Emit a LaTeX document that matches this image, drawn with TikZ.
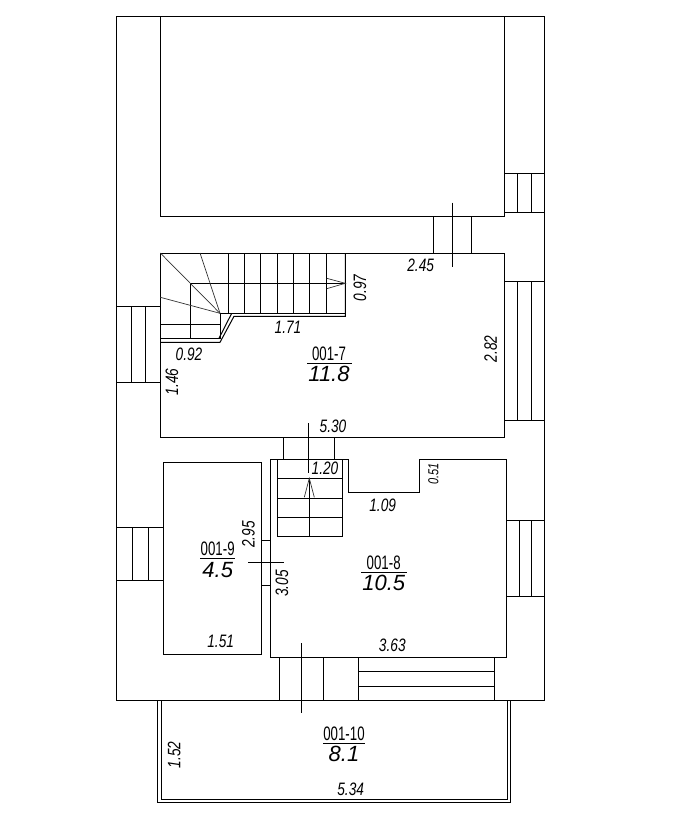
\documentclass[tikz,border=0pt]{standalone}
\usepackage{fontspec}
\setmainfont{Liberation Sans}
\newfontfamily\narrowfont[FakeStretch=0.76]{Liberation Sans}
\newfontfamily\tagfont[FakeStretch=0.68]{Liberation Sans}
\tikzset{
    wall/.style={draw=black,line width=1pt},
    thin wall/.style={draw=black!80,line width=0.7pt},
    size/.style={font=\narrowfont\itshape\fontsize{18}{18}\selectfont,inner sep=0pt},
    small size/.style={font=\narrowfont\itshape\fontsize{14.5}{15}\selectfont,inner sep=0pt},
    room tag/.style={font=\tagfont\fontsize{19.5}{20}\selectfont,inner sep=0pt},
    room area/.style={font=\itshape\fontsize{22}{22}\selectfont,inner sep=0pt}
}
\begin{document}
\begin{tikzpicture}[x=1pt,y=-1pt]
    \useasboundingbox (0,0) rectangle (675,816);
    % outline and rooms
    \draw[wall] (116.5,17) rectangle (544,700.3);
    \draw[wall] (160.3,17) -- (160.3,216) -- (504.3,216) -- (504.3,17);
    \draw[wall] (160.3,253) rectangle (504.3,437);
    \draw[wall] (163.3,462.3) rectangle (261.3,654.3);
    \draw[wall] (348.3,459.3) -- (270.3,459.3) -- (270.3,657.3) -- (506.7,657.3) -- (506.7,459.3) -- (419.3,459.3) -- (419.3,492.3) -- (348.3,492.3) -- cycle;
    % balcony
    \draw[wall] (161.3,700.3) -- (161.3,799.3) -- (507,799.3) -- (507,700.3);
    \draw[wall] (157.3,700.3) -- (157.3,802.3) -- (510.7,802.3) -- (510.7,700.3);
    % windows on the right
    \draw[wall] (504.3,173.3) -- (544,173.3) (504.3,212.3) -- (544,212.3);
    \draw[wall] (504.3,281.3) -- (544,281.3) (504.3,420) -- (544,420);
    \draw[wall] (506.7,520) -- (544,520) (506.7,596) -- (544,596);
    \foreach \wx/\wa/\wb in {517.3/173.3/212.3,531.3/173.3/212.3,517.3/281.3/420,531.3/281.3/420,519.3/520/596,531.7/520/596}
        \draw[wall] (\wx,\wa) -- (\wx,\wb);
    % windows on the left
    \draw[wall] (116.5,306.7) -- (160.3,306.7) (116.5,382.3) -- (160.3,382.3);
    \draw[wall] (116.5,527.3) -- (163.3,527.3) (116.5,580.3) -- (163.3,580.3);
    \foreach \wx/\wa/\wb in {131.3/306.7/382.3,145.3/306.7/382.3,132.3/527.3/580.3,148.3/527.3/580.3}
        \draw[wall] (\wx,\wa) -- (\wx,\wb);
    % window at the bottom
    \draw[wall] (358.3,657.3) -- (358.3,700.3) (494.3,657.3) -- (494.3,700.3);
    \draw[wall] (358.3,671.3) -- (494.3,671.3) (358.3,686.3) -- (494.3,686.3);
    % doors
    \draw[wall] (433.3,216) -- (433.3,253) (471.3,216) -- (471.3,253);
    \draw[wall] (452.3,202.7) -- (452.3,266.7);
    \draw[wall] (283.3,437) -- (283.3,459.3) (334.3,437) -- (334.3,459.3);
    \draw[wall] (308.3,423) -- (308.3,472.7);
    \draw[wall] (261.3,540) -- (270.3,540) (261.3,585.3) -- (270.3,585.3);
    \draw[wall] (248,562.3) -- (284,562.3);
    \draw[wall] (279.3,657.3) -- (279.3,700.3) (323.3,657.3) -- (323.3,700.3);
    \draw[wall] (301.3,643.3) -- (301.3,713.3);
    % upper stairs
    \draw[wall] (345.3,253) -- (345.3,316.3) -- (234,316.3) -- (220,342.3) -- (160.3,342.3);
    \draw[wall] (190.3,283.3) -- (345.3,283.3);
    \draw[wall] (220,313.3) -- (345.3,313.3);
    \draw[wall] (190.3,283.3) -- (190.3,338.3);
    \draw[wall] (220,313.3) -- (220,338.3) -- (160.3,338.3);
    \draw[wall] (160.3,324.3) -- (220,324.3);
    \draw[wall] (219,338.3) -- (231.7,313.3);
    \foreach \tx in {228.3,244.3,260.3,277.3,293.3,309.3,326.3}
        \draw[wall] (\tx,253) -- (\tx,313.3);
    \foreach \wx/\wy in {160.3/253,200/253,160.3/297.3}
        \draw[thin wall] (\wx,\wy) -- (220,313.3);
    \draw[thin wall] (326.7,278.3) -- (345.3,283.3) -- (326.7,288.7);
    % lower stairs
    \draw[wall] (277.3,459.3) rectangle (342.3,536.3);
    \foreach \ty in {478.3,498.3,517.3}
        \draw[wall] (277.3,\ty) -- (342.3,\ty);
    \draw[wall] (309.3,478.3) -- (309.3,536.3);
    \draw[thin wall] (304.3,497.3) -- (309.3,478.3) -- (314.3,497.3);
    % room labels
    \node[room tag] (tag7) at (329,354) {001-7};
    \node[room area] (area7) at (329,374) {11.8};
    \draw[wall] (307.3,363.3) -- (351.7,363.3);
    \node[room tag] (tag8) at (383.7,562.7) {001-8};
    \node[room area] (area8) at (383.7,583.3) {10.5};
    \draw[wall] (361,572.3) -- (406.7,572.3);
    \node[room tag] (tag9) at (217.7,549) {001-9};
    \node[room area] (area9) at (217.7,570) {4.5};
    \draw[wall] (200,558.3) -- (235,558.3);
    \node[room tag] (tag10) at (344,734) {001-10};
    \node[room area] (area10) at (344,754.3) {8.1};
    \draw[wall] (323,743.3) -- (365,743.3);
    % sizes
    \node[size] (s245) at (420.7,265) {2.45};
    \node[size,rotate=90] (s097) at (360,288) {0.97};
    \node[size] (s171) at (288,327) {1.71};
    \node[size] (s092) at (189,354) {0.92};
    \node[size,rotate=90] (s146) at (172,382) {1.46};
    \node[size,rotate=90] (s282) at (490.7,349) {2.82};
    \node[size] (s530) at (333,426) {5.30};
    \node[size] (s120) at (325,468) {1.20};
    \node[size] (s109) at (382.7,505) {1.09};
    \node[small size,rotate=90] (s051) at (433.3,474) {0.51};
    \node[size,rotate=90] (s295) at (248.3,534.3) {2.95};
    \node[size,rotate=90] (s305) at (282,583.3) {3.05};
    \node[size] (s151) at (220.7,641.7) {1.51};
    \node[size] (s363) at (392.3,645.3) {3.63};
    \node[size,rotate=90] (s152) at (174.3,754.7) {1.52};
    \node[size] (s534) at (350.7,789) {5.34};
\end{tikzpicture}
\end{document}
